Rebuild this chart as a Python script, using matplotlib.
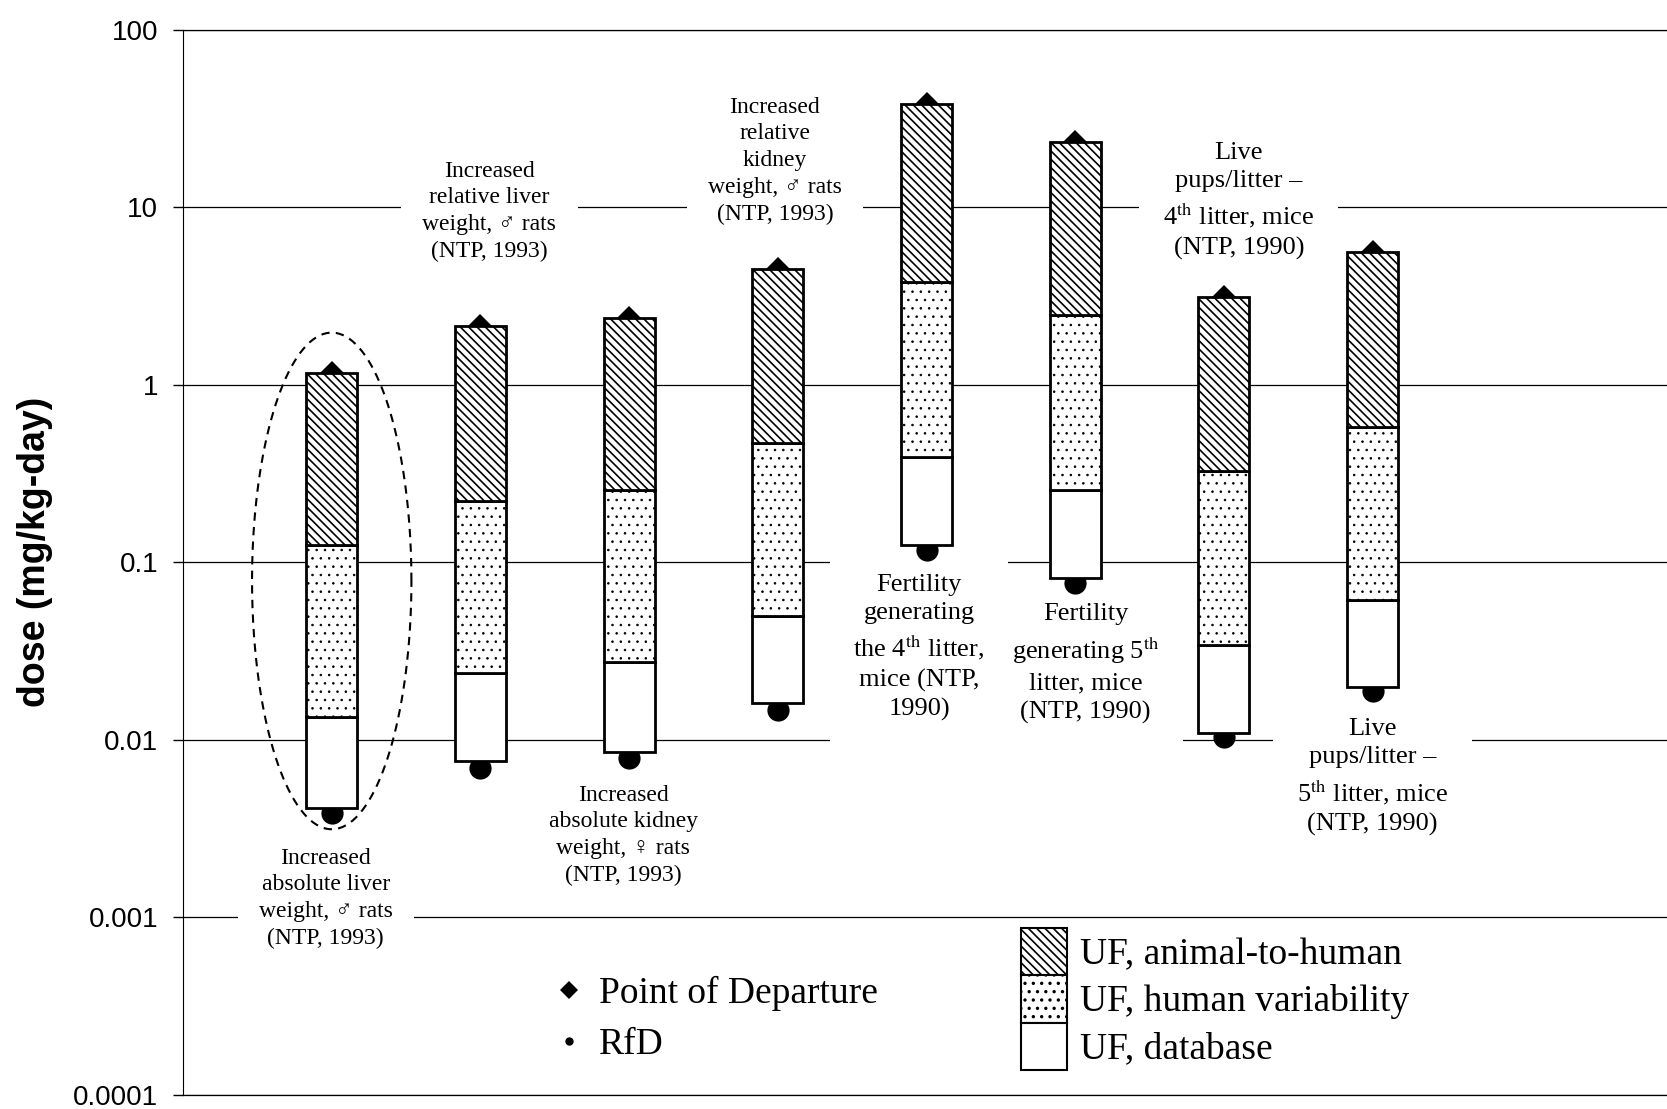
import matplotlib
matplotlib.use("Agg")
import matplotlib.pyplot as plt
import numpy as np
from matplotlib.lines import Line2D
from matplotlib.patches import Patch
from matplotlib.ticker import NullLocator

plt.rcParams['mathtext.fontset'] = 'stix'

# ---------------------------------------------------------------
# data (mg/kg-day)
# ---------------------------------------------------------------
endpoints = [
    "Increased\nabsolute liver\nweight, \u2642 rats\n(NTP, 1993)",
    "Increased\nrelative liver\nweight, \u2642 rats\n(NTP, 1993)",
    "Increased\nabsolute kidney\nweight, \u2640 rats\n(NTP, 1993)",
    "Increased\nrelative\nkidney\nweight, \u2642 rats\n(NTP, 1993)",
    "Fertility\ngenerating\nthe 4$^{\\mathrm{th}}$ litter,\nmice (NTP,\n1990)",
    "Fertility\ngenerating 5$^{\\mathrm{th}}$\nlitter, mice\n(NTP, 1990)",
    "Live\npups/litter \u2013\n4$^{\\mathrm{th}}$ litter, mice\n(NTP, 1990)",
    "Live\npups/litter \u2013\n5$^{\\mathrm{th}}$ litter, mice\n(NTP, 1990)",
]
pod = [1.16, 2.14, 2.38, 4.5, 38.1, 23.2, 3.14, 5.6]            # point of departure (bar top)
after_uf_a = [0.125, 0.222, 0.255, 0.469, 3.81, 2.49, 0.327, 0.576]
after_uf_h = [0.0134, 0.0238, 0.0274, 0.050, 0.392, 0.255, 0.0341, 0.0617]
after_uf_d = [0.00414, 0.0076, 0.0085, 0.0162, 0.125, 0.0813, 0.0109, 0.0199]
rfd = [0.00386, 0.00699, 0.0079, 0.0147, 0.118, 0.0769, 0.0104, 0.0189]

tick_values = [1e-4, 1e-3, 1e-2, 1e-1, 1, 10, 100]
tick_labels = ["0.0001", "0.001", "0.01", "0.1", "1", "10", "100"]

# where the endpoint captions sit (x offset from bar, y in dose units)
label_dx = [-0.04, 0.06, -0.04, -0.02, -0.05, 0.07, 0.10, 0.0]
label_y = [0.00128, 9.5, 0.0029, 18.3, 0.0332, 0.027, 10.9, 0.0062]
label_size = [17, 17, 17, 17, 19, 19, 19, 19]

# dashed highlight round the first bar (dose range)
highlight_x = 1
highlight_range = (0.00314, 1.97)

# ---------------------------------------------------------------
# figure
# ---------------------------------------------------------------
fig = plt.figure(figsize=(16.67, 11.09), dpi=100)
ax = fig.add_axes([0.1098, 0.0126, 0.8902, 0.9605])

x = np.arange(1, len(pod) + 1)
w = 0.343
serif = ['Liberation Serif', 'DejaVu Serif']

ax.bar(x, np.array(after_uf_h) - np.array(after_uf_d), bottom=after_uf_d, width=w,
       facecolor='white', edgecolor='black', linewidth=2, zorder=3)
plt.rcParams['hatch.linewidth'] = 0.6
ax.bar(x, np.array(after_uf_a) - np.array(after_uf_h), bottom=after_uf_h, width=w,
       facecolor='white', edgecolor='black', linewidth=2, hatch='..', zorder=3)
pt_dots = Patch(facecolor='white', edgecolor='black', lw=1.5, hatch='..')
plt.rcParams['hatch.linewidth'] = 1.2
ax.bar(x, np.array(pod) - np.array(after_uf_a), bottom=after_uf_a, width=w,
       facecolor='white', edgecolor='black', linewidth=2, hatch='\\\\\\\\', zorder=3)
pt_lines = Patch(facecolor='white', edgecolor='black', lw=1.5, hatch='\\\\\\\\')

ax.plot(x, pod, ls='none', marker='D', ms=12, mew=0, color='black', zorder=2.8)
ax.plot(x, rfd, ls='none', marker='o', ms=16, mew=0, color='black', zorder=2.8)

for i, txt in enumerate(endpoints):
    ax.text(x[i] + label_dx[i], label_y[i], txt, ha='center', va='center',
            fontsize=label_size[i], family=serif, linespacing=1.36, zorder=2.5,
            bbox=dict(boxstyle='square,pad=0.9', fc='white', ec='none'))

# dashed ellipse (drawn in x / log10(dose) space so it looks like an ellipse)
t = np.linspace(0, 2 * np.pi, 300)
lo, hi = np.log10(highlight_range[0]), np.log10(highlight_range[1])
ax.plot(highlight_x + 0.536 * np.cos(t), 10 ** ((lo + hi) / 2 + (hi - lo) / 2 * np.sin(t)),
        color='black', lw=1.5, ls=(0, (4, 3)), zorder=4)

ax.set_yscale('log')
ax.set_ylim(1e-4, 100)
ax.set_xlim(0, 9.98)
ax.set_yticks(tick_values)
ax.set_yticklabels(tick_labels, family='Liberation Sans', fontsize=20)
ax.yaxis.set_minor_locator(NullLocator())
ax.set_xticks([])
ax.tick_params(axis='y', length=7, width=1, pad=11, direction='out')
ax.yaxis.grid(True, color='black', lw=0.9)
ax.set_axisbelow(True)
ax.spines['right'].set_visible(False)
for s in ['top', 'bottom']:
    ax.spines[s].set_linewidth(0.9)
ax.set_ylabel("dose (mg/kg-day)", family='Liberation Sans', fontsize=27,
              fontweight='bold', labelpad=14)
ax.yaxis.label.set_y(0.51)

# legends
mk = [Line2D([], [], ls='none', marker='D', ms=9, mew=0, color='black'),
      Line2D([], [], ls='none', marker='o', ms=6, mew=0, color='black')]
fig.legend(mk, ["Point of Departure", "RfD"], loc='center left',
           bbox_to_anchor=(0.321, 0.081), frameon=False, borderpad=0,
           handlelength=0.8, handletextpad=0.4, labelspacing=0.45,
           prop=dict(family=serif, size=27))
pt = [pt_lines, pt_dots, Patch(facecolor='white', edgecolor='black', lw=1.5)]
fig.legend(pt, ["UF, animal-to-human", "UF, human variability", "UF, database"],
           loc='upper left', bbox_to_anchor=(0.601, 0.180), frameon=False,
           borderpad=0, handlelength=1.23, handleheight=1.56, handletextpad=0.35,
           labelspacing=0, prop=dict(family=serif, size=27))

fig.savefig("out.png", dpi=100)
